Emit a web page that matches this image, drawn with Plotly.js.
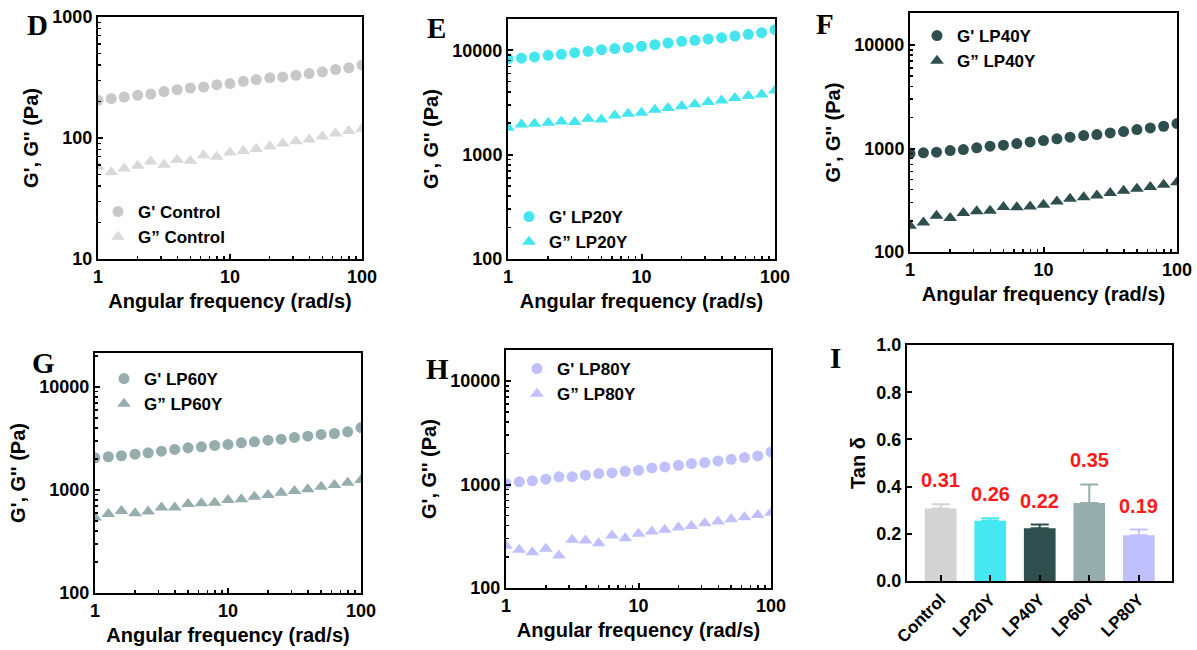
<!DOCTYPE html>
<html><head><meta charset="utf-8">
<script src="https://cdn.plot.ly/plotly-3.0.1.min.js"></script>
<style>html,body{margin:0;padding:0;background:#fff}#chart{width:1197px;height:650px}</style>
</head><body><div id="chart"></div>
<script>
// ---------- data ----------
const freq = [1, 1.26, 1.58, 2, 2.51, 3.16, 3.98, 5.01, 6.31, 7.94, 10, 12.6, 15.8, 20, 25.1, 31.6, 39.8, 50.1, 63.1, 79.4, 100];

const gpControl  = [205, 212, 218, 226, 231, 242, 251, 259, 264, 276, 282, 294, 304, 314, 320, 330, 341, 352, 368, 380, 402];
const gppControl = [58, 52, 56, 59, 64, 60, 66, 65, 72, 70, 76, 78, 81, 85, 90, 94, 97, 103, 109, 114, 119];

const gpLP20Y  = [8300, 8400, 8640, 8960, 9160, 9500, 9780, 10150, 10380, 10620, 10920, 11330, 11750, 12190, 12470, 12830, 13210, 13710, 14220, 14760, 15780];
const gppLP20Y = [1812, 1950, 1980, 2024, 2084, 2055, 2210, 2178, 2379, 2468, 2524, 2696, 2797, 2902, 3033, 3191, 3311, 3486, 3642, 3778, 4127];

const gpLP40Y  = [895, 908, 922, 956, 978, 1015, 1053, 1077, 1117, 1159, 1194, 1240, 1286, 1335, 1365, 1416, 1459, 1525, 1582, 1642, 1742];
const gppLP40Y = [179, 193, 224, 213, 238, 247, 250, 272, 270, 276, 286, 308, 327, 339, 352, 371, 391, 408, 424, 446, 473];

const gpLP60Y  = [2055, 2102, 2150, 2229, 2297, 2384, 2475, 2569, 2626, 2706, 2767, 2872, 2937, 3049, 3117, 3235, 3333, 3459, 3535, 3669, 4038];
const gppLP60Y = [540, 586, 627, 594, 617, 675, 675, 732, 743, 754, 800, 812, 862, 895, 942, 978, 1015, 1077, 1118, 1177, 1249];

const gpLP80Y  = [1022, 1061, 1085, 1126, 1186, 1186, 1230, 1276, 1295, 1344, 1374, 1447, 1479, 1535, 1593, 1629, 1690, 1754, 1820, 1888, 2064];
const gppLP80Y = [256, 234, 222, 239, 206, 292, 288, 271, 322, 303, 334, 351, 365, 384, 398, 423, 439, 462, 483, 508, 535];

const samples   = ['Control', 'LP20Y', 'LP40Y', 'LP60Y', 'LP80Y'];
const tanDelta  = [0.307, 0.255, 0.223, 0.330, 0.194];
const tanErr    = [0.018, 0.011, 0.016, 0.079, 0.024];
const tanLabels = ['0.31', '0.26', '0.22', '0.35', '0.19'];

const xTickVals = [1, 10, 100];
const xTickText = ['1', '10', '100'];
const panelLetters = ['D', 'E', 'F', 'G', 'H', 'I'];

// ---------- styling ----------
const W = 1197, H = 650;
const SANS = 'Liberation Sans, Arial, sans-serif';
const SERIF = 'Liberation Serif, Times New Roman, serif';
const colors = {
  Control: {gp: '#c8c8c8', gpp: '#d9d9d9', bar: '#d3d3d3'},
  LP20Y:   {gp: '#45e5f0', gpp: '#45e5f0', bar: '#45e8f0'},
  LP40Y:   {gp: '#2f4f4f', gpp: '#2f4f4f', bar: '#2f4f4f'},
  LP60Y:   {gp: '#95adad', gpp: '#95adad', bar: '#95adad'},
  LP80Y:   {gp: '#c0c0ff', gpp: '#c0c0ff', bar: '#c0c0ff'}
};

// pixel boxes [left, right, top, bottom]
const boxes = [
  [98, 362, 17, 259],
  [508, 775, 19, 259],
  [910, 1177, 13, 252],
  [95, 361, 353, 593],
  [506, 771, 350, 588],
  [907, 1172, 345, 581]
];
const yRanges = [[1, 3], [2, 4.3], [2, 4.31], [2, 4.33], [2, 4.3]];
const yTicks = [
  [[10, 100, 1000], ['10', '100', '1000']],
  [[100, 1000, 10000], ['100', '1000', '10000']],
  [[100, 1000, 10000], ['100', '1000', '10000']],
  [[100, 1000, 10000], ['100', '1000', '10000']],
  [[100, 1000, 10000], ['100', '1000', '10000']]
];
// legend [marker center x, top y]
const legendPos = [[118, 194], [529, 199], [937, 18], [124, 361], [537, 351]];

const seriesSets = [
  ['Control', gpControl, gppControl],
  ['LP20Y', gpLP20Y, gppLP20Y],
  ['LP40Y', gpLP40Y, gppLP40Y],
  ['LP60Y', gpLP60Y, gppLP60Y],
  ['LP80Y', gpLP80Y, gppLP80Y]
];

const xd = b => [b[0] / W, b[1] / W];
const yd = b => [1 - b[3] / H, 1 - b[2] / H];

const baseAxis = {
  showline: true, linecolor: 'black', linewidth: 2, mirror: true,
  ticks: 'inside', ticklen: 5, tickwidth: 2, tickcolor: 'black',
  showgrid: false, zeroline: false,
  tickfont: {family: SANS, size: 18, weight: 'bold', color: 'black'}
};
const titleFont = {family: SANS, size: 20, weight: 'bold', color: 'black'};

const traces = [];
const layout = {
  width: W, height: H,
  margin: {l: 0, r: 0, t: 0, b: 0},
  paper_bgcolor: 'white', plot_bgcolor: 'white',
  showlegend: true,
  annotations: []
};

seriesSets.forEach((s, i) => {
  const [name, gp, gpp] = s;
  const n = i + 1;
  const xa = n === 1 ? 'x' : 'x' + n;
  const ya = n === 1 ? 'y' : 'y' + n;
  const lg = n === 1 ? 'legend' : 'legend' + n;
  traces.push({
    type: 'scatter', mode: 'markers', x: freq, y: gp, xaxis: xa, yaxis: ya,
    name: "G' " + name, legend: lg, legendgroup: 'a' + n,
    marker: {symbol: 'circle', size: 11, color: colors[name].gp}
  });
  traces.push({
    type: 'scatter', mode: 'markers', x: freq, y: gpp, xaxis: xa, yaxis: ya,
    name: 'G\u201D ' + name, legend: lg, legendgroup: 'b' + n,
    marker: {symbol: 'triangle-up', size: 12, color: colors[name].gpp}
  });
  const b = boxes[i];
  layout['xaxis' + (n === 1 ? '' : n)] = Object.assign({}, baseAxis, {
    type: 'log', range: [0, 2], domain: xd(b), anchor: ya,
    tickmode: 'array', tickvals: xTickVals, ticktext: xTickText,
    minor: {ticks: 'inside', ticklen: 3, tickwidth: 1.5, tickcolor: 'black', dtick: 'D1', showgrid: false},
    title: {text: 'Angular frequency (rad/s)', font: titleFont, standoff: 8}
  });
  layout['yaxis' + (n === 1 ? '' : n)] = Object.assign({}, baseAxis, {
    type: 'log', range: yRanges[i], domain: yd(b), anchor: xa,
    tickmode: 'array', tickvals: yTicks[i][0], ticktext: yTicks[i][1],
    minor: {ticks: 'inside', ticklen: 3, tickwidth: 1.5, tickcolor: 'black', dtick: 'D1', showgrid: false},
    title: {text: "G', G'' (Pa)", font: titleFont, standoff: 8}
  });
  const lp = legendPos[i];
  layout[lg] = {
    x: (lp[0] - 20) / W, y: 1 - lp[1] / H, xanchor: 'left', yanchor: 'top',
    bgcolor: 'rgba(0,0,0,0)', borderwidth: 0, tracegroupgap: 0,
    font: {family: SANS, size: 17, weight: 'bold', color: 'black'}
  };
});

// bar chart panel I
samples.forEach((s, k) => {
  traces.push({
    type: 'bar', x: [s], y: [tanDelta[k]], xaxis: 'x6', yaxis: 'y6', width: 0.64,
    showlegend: false,
    marker: {color: colors[s].bar, line: {width: 0}},
    error_y: {type: 'data', symmetric: false, array: [tanErr[k]], arrayminus: [0],
              color: colors[s].bar, thickness: 2, width: 9}
  });
  layout.annotations.push({
    xref: 'x6', yref: 'y6', x: s, y: tanDelta[k] + tanErr[k], yanchor: 'middle', yshift: 24,
    text: tanLabels[k], showarrow: false,
    font: {family: SANS, size: 20, weight: 'bold', color: '#ff1a1a'}
  });
});
layout.barmode = 'overlay';
layout.xaxis6 = Object.assign({}, baseAxis, {
  type: 'category', domain: xd(boxes[5]), anchor: 'y6', range: [-0.68, 4.67],
  tickangle: -45, ticklen: 6,
  tickfont: {family: SANS, size: 17, weight: 'bold', color: 'black'}
});
layout.yaxis6 = Object.assign({}, baseAxis, {
  domain: yd(boxes[5]), anchor: 'x6', range: [0, 1], dtick: 0.2, tickformat: '.1f',
  title: {text: 'Tan \u03B4', font: titleFont, standoff: 5}
});

// panel letters [center x, center y]
const letterPos = [[37, 25], [436, 28], [825, 24], [43, 363], [437, 369], [835, 358]];
panelLetters.forEach((L, i) => {
  layout.annotations.push({
    xref: 'paper', yref: 'paper', x: letterPos[i][0] / W, y: 1 - letterPos[i][1] / H,
    xanchor: 'center', yanchor: 'middle', text: L, showarrow: false,
    font: {family: SERIF, size: 29, weight: 'bold', color: 'black'}
  });
});

Plotly.newPlot('chart', traces, layout, {displayModeBar: false, staticPlot: true});
</script>
</body></html>
